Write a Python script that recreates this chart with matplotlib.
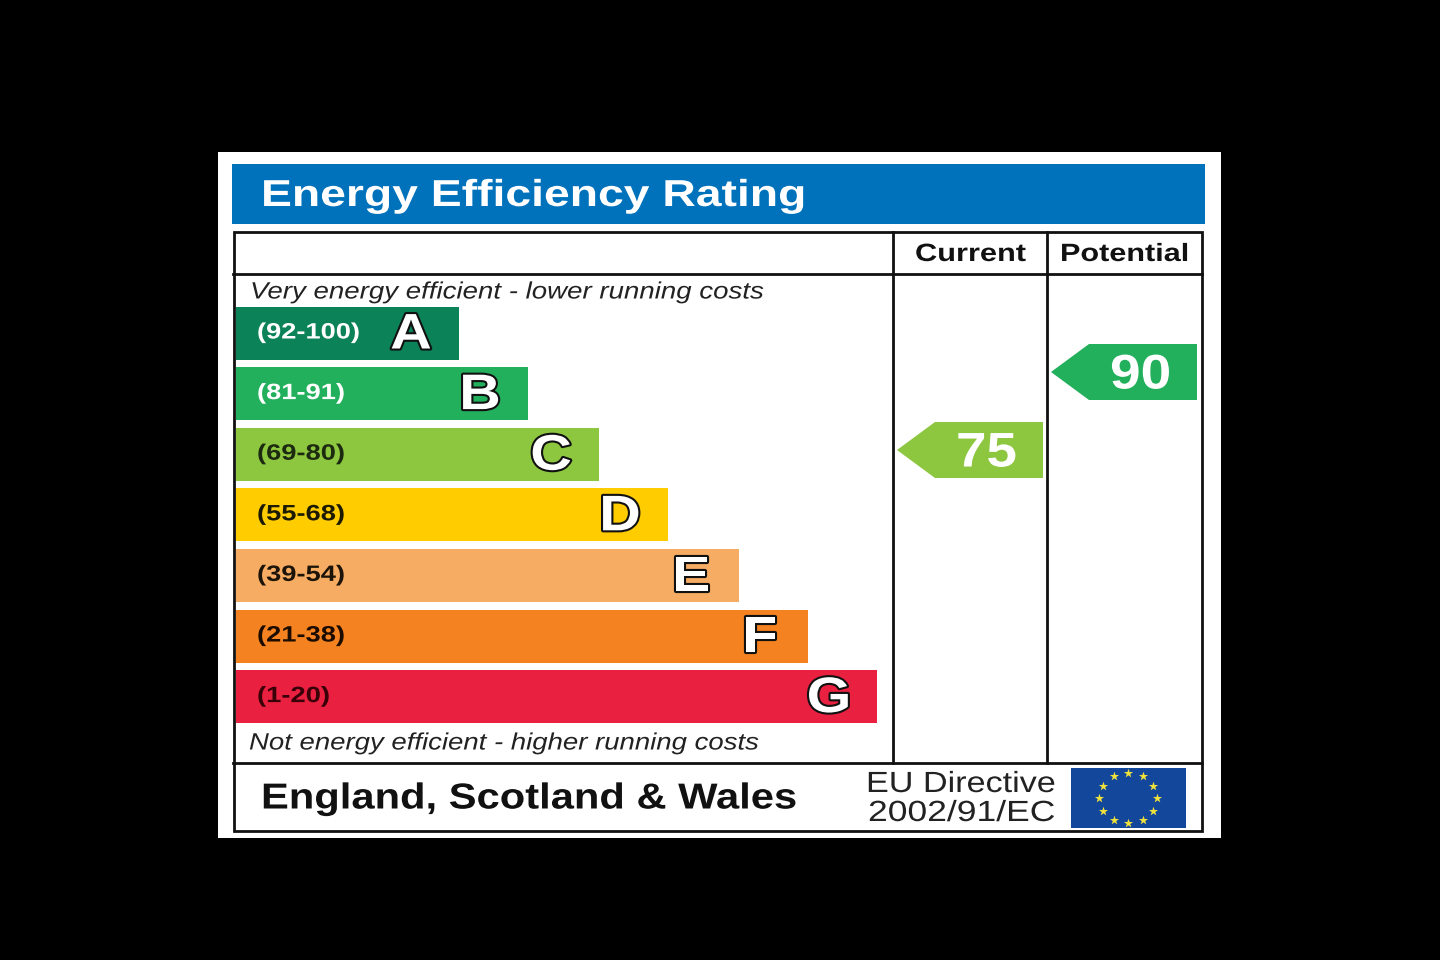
import matplotlib
matplotlib.use('Agg')
import numpy as np
import matplotlib.pyplot as plt
import matplotlib.patheffects as pe
from matplotlib.patches import Rectangle, Polygon
from matplotlib.transforms import Affine2D

# 数据
title = 'Energy Efficiency Rating'
col_names = ['Current', 'Potential']
top_note = 'Very energy efficient - lower running costs'
bottom_note = 'Not energy efficient - higher running costs'
region = 'England, Scotland & Wales'
directive = ['EU Directive', '2002/91/EC']
bands = ['A', 'B', 'C', 'D', 'E', 'F', 'G']
ranges = ['(92-100)', '(81-91)', '(69-80)', '(55-68)', '(39-54)', '(21-38)', '(1-20)']
band_len = [223, 292, 363, 432, 503, 572, 641]
band_colors = ['#0c8259', '#22b05c', '#8dc63f', '#ffcc00', '#f7ac63', '#f58220', '#e9203f']
range_colors = ['white', 'white', '#1c2a10', '#1c1a00', '#1c1408', '#1c0c00', '#3a0008']
scores = [75, 90]
score_colors = ['#8dc63f', '#22b05c']

fig = plt.figure(figsize=(14.4, 9.6), dpi=100, facecolor='black')
ax = fig.add_axes([0, 0, 1, 1])
ax.set_xlim(0, 1440)
ax.set_ylim(960, 0)
ax.axis('off')
renderer = fig.canvas.get_renderer()

FONT = 'Liberation Sans'
DARK = '#111111'


# 参考图的字体是横向拉宽的，用路径效果把文字沿x方向拉伸
class Wide(pe.Stroke):
    def __init__(self, x0, sx, **kw):
        super().__init__(**kw)
        self.x0 = x0
        self.sx = sx

    def _offset_transform(self, renderer):
        return Affine2D().translate(-self.x0, 0).scale(self.sx, 1).translate(self.x0, 0)


# 左对齐写字，并拉伸到给定的像素宽度
def fit_text(x0, x1, y, s, size, color, weight='normal', style='normal'):
    t = ax.text(x0, y, s, color=color, fontsize=size, fontweight=weight, style=style,
                family=FONT, ha='left', va='center')
    sx = (x1 - x0) / t.get_window_extent(renderer).width
    t.set_path_effects([Wide(x0, sx)])
    return t


# 白底和标题栏
ax.add_patch(Rectangle((218, 152), 1003, 686, fc='white', ec='none'))
ax.add_patch(Rectangle((232, 164), 973, 60, fc='#0072bc', ec='none'))
fit_text(261, 806, 196, title, 27, 'white', weight='bold')

# 表格线
lw = 2.0
ax.add_patch(Rectangle((233.5, 232), 968.5, 599, fc='none', ec=DARK, lw=lw))
ax.plot([233, 1202], [273.5, 273.5], color=DARK, lw=lw)
ax.plot([233, 1202], [763, 763], color=DARK, lw=lw)
ax.plot([893, 893], [232, 763], color=DARK, lw=lw)
ax.plot([1047, 1047], [232, 763], color=DARK, lw=lw)

fit_text(915, 1026, 254, col_names[0], 18, DARK, weight='bold')
fit_text(1060, 1189, 254, col_names[1], 18, DARK, weight='bold')

fit_text(250, 765, 292, top_note, 17, '#222222', style='italic')
fit_text(249, 760, 743, bottom_note, 17, '#222222', style='italic')

# 等级条
bar_y = 333 + 60.6 * np.arange(len(bands))
ax.barh(bar_y, band_len, height=53, left=236, color=band_colors, edgecolor='none')
for y, w, b, r, rc in zip(bar_y, band_len, bands, ranges, range_colors):
    tw = 103 if len(r) == 8 else (73 if len(r) == 6 else 88)
    fit_text(257, 257 + tw, y, r, 16, rc, weight='bold')
    cx = 236 + w - 48
    t = ax.text(cx, y + 2.5, b, color='white', fontsize=36, fontweight='bold',
                family=FONT, ha='center', va='center')
    t.set_path_effects([Wide(cx, 1.15, linewidth=3, foreground=DARK), Wide(cx, 1.15)])

# 当前/潜在评分箭头
col_right = [1043, 1197]
for s, c, right in zip(scores, score_colors, col_right):
    yc = 372 + (90 - s) * 78 / 15
    left = right - 146
    ax.add_patch(Polygon([(left, yc), (left + 38, yc - 28), (right, yc - 28),
                          (right, yc + 28), (left + 38, yc + 28)], fc=c, ec='none'))
    fit_text(left + 59, left + 120, yc + 4, str(s), 35, 'white', weight='bold')

# 底部
fit_text(261, 797, 799, region, 26, DARK, weight='bold')
fit_text(866, 1056, 784, directive[0], 21, '#222222')
fit_text(868, 1055, 813, directive[1], 21, '#222222')

# 欧盟旗
ax.add_patch(Rectangle((1071, 768), 115, 60, fc='#12479b', ec='none'))
ang = np.deg2rad(np.arange(0, 360, 30))
ax.scatter(1128 + 29 * np.cos(ang), 798 + 25 * np.sin(ang), marker='*', s=48,
           color='#f2e33a', linewidths=0)

fig.savefig('out.png', dpi=100, facecolor='black')
